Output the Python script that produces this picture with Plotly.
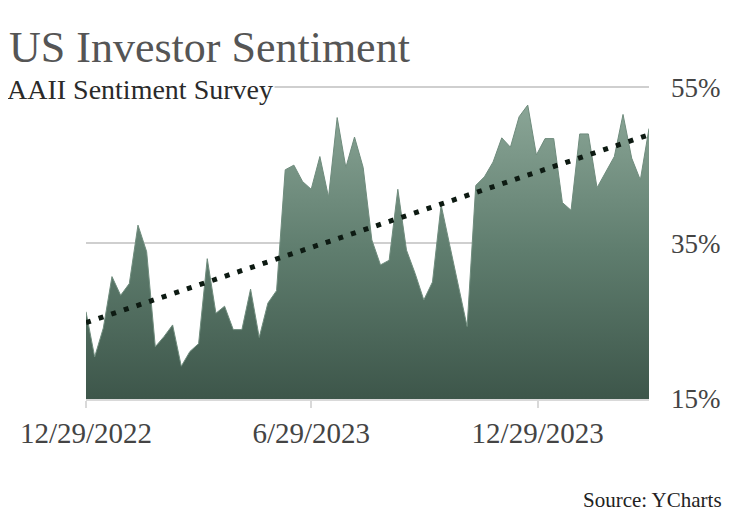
import pandas as pd
import plotly.graph_objects as go

# Weekly AAII bullish sentiment (%), starting 12/29/2022
start_date = "2022-12-29"
bullish = [26.2, 20.4, 24.1, 30.7, 28.3, 29.8, 37.3, 33.9, 21.7, 23.0,
           24.5, 19.2, 21.1, 22.1, 33.0, 26.0, 26.9, 23.9, 23.9, 29.1,
           22.9, 27.3, 28.9, 44.4, 45.0, 42.9, 41.9, 46.1, 40.9, 51.1,
           44.7, 48.6, 44.7, 35.4, 32.2, 32.8, 41.9, 34.1, 31.1, 27.7,
           30.0, 39.9, 34.7, 29.5, 24.3, 42.4, 43.5, 45.4, 48.5, 47.3,
           51.2, 52.7, 46.3, 48.4, 48.4, 40.2, 39.2, 49.0, 49.0, 42.1,
           44.1, 46.1, 51.5, 45.9, 43.1, 49.7]
trend_ends = [24.8, 48.9]
x_ticks = ["2022-12-29", "2023-06-29", "2023-12-29"]
x_tick_labels = ["12/29/2022", "6/29/2023", "12/29/2023"]
y_ticks = [15, 35, 55]
y_tick_labels = ["15%", "35%", "55%"]

dates = pd.date_range(start_date, periods=len(bullish), freq="7D")
trend_x = [dates[0], dates[-1]]

SERIF = "Liberation Serif, Times New Roman, serif"

fig = go.Figure()
fig.add_trace(go.Scatter(
    x=dates, y=bullish, mode="lines",
    line=dict(color="#6f8c7d", width=1),
    fill="tozeroy",
    fillgradient=dict(type="vertical", start=15, stop=53,
                      colorscale=[[0, "#3d564a"], [0.5, "#5f7d6e"], [1, "#8ba697"]]),
    hoverinfo="skip", showlegend=False,
))
fig.add_trace(go.Scatter(
    x=trend_x, y=trend_ends, mode="lines",
    line=dict(color="#0d1a12", width=5, dash="5px,8.3px"),
    hoverinfo="skip", showlegend=False,
))

fig.update_layout(
    width=725, height=513,
    margin=dict(l=76, r=83, t=78, b=122),
    paper_bgcolor="white", plot_bgcolor="white",
    font=dict(family=SERIF, color="#444444"),
    xaxis=dict(
        range=[dates[0], dates[-1]],
        tickvals=pd.to_datetime(x_ticks), ticktext=x_tick_labels,
        tickfont=dict(size=29, color="#444444"),
        showgrid=False, zeroline=False,
        showline=True, linecolor="#d9d9d9", linewidth=2,
        ticks="outside", ticklen=7, tickcolor="#d9d9d9", tickwidth=2,
    ),
    yaxis=dict(
        range=[15, 55.15], side="right",
        tickvals=y_ticks, ticktext=y_tick_labels,
        tickfont=dict(size=27, color="#444444"),
        showgrid=True, gridcolor="#cfcfcf", gridwidth=1.5,
        zeroline=False, showline=False, ticks="",
        ticklabelstandoff=21,
    ),
    annotations=[
        dict(text="US Investor Sentiment", xref="paper", yref="paper",
             x=-0.141, y=1.122, xanchor="left", yanchor="middle",
             showarrow=False, font=dict(family=SERIF, size=44, color="#555555")),
        dict(text="AAII Sentiment Survey", xref="paper", yref="paper",
             x=-0.143, y=0.99, xanchor="left", yanchor="middle",
             showarrow=False, bgcolor="white",
             font=dict(family=SERIF, size=28, color="#2a2a2a")),
        dict(text="Source: YCharts", xref="paper", yref="paper",
             x=1.134, y=-0.324, xanchor="right", yanchor="middle",
             showarrow=False, font=dict(family=SERIF, size=21, color="#222222")),
    ],
)

fig.write_html("out.html")
